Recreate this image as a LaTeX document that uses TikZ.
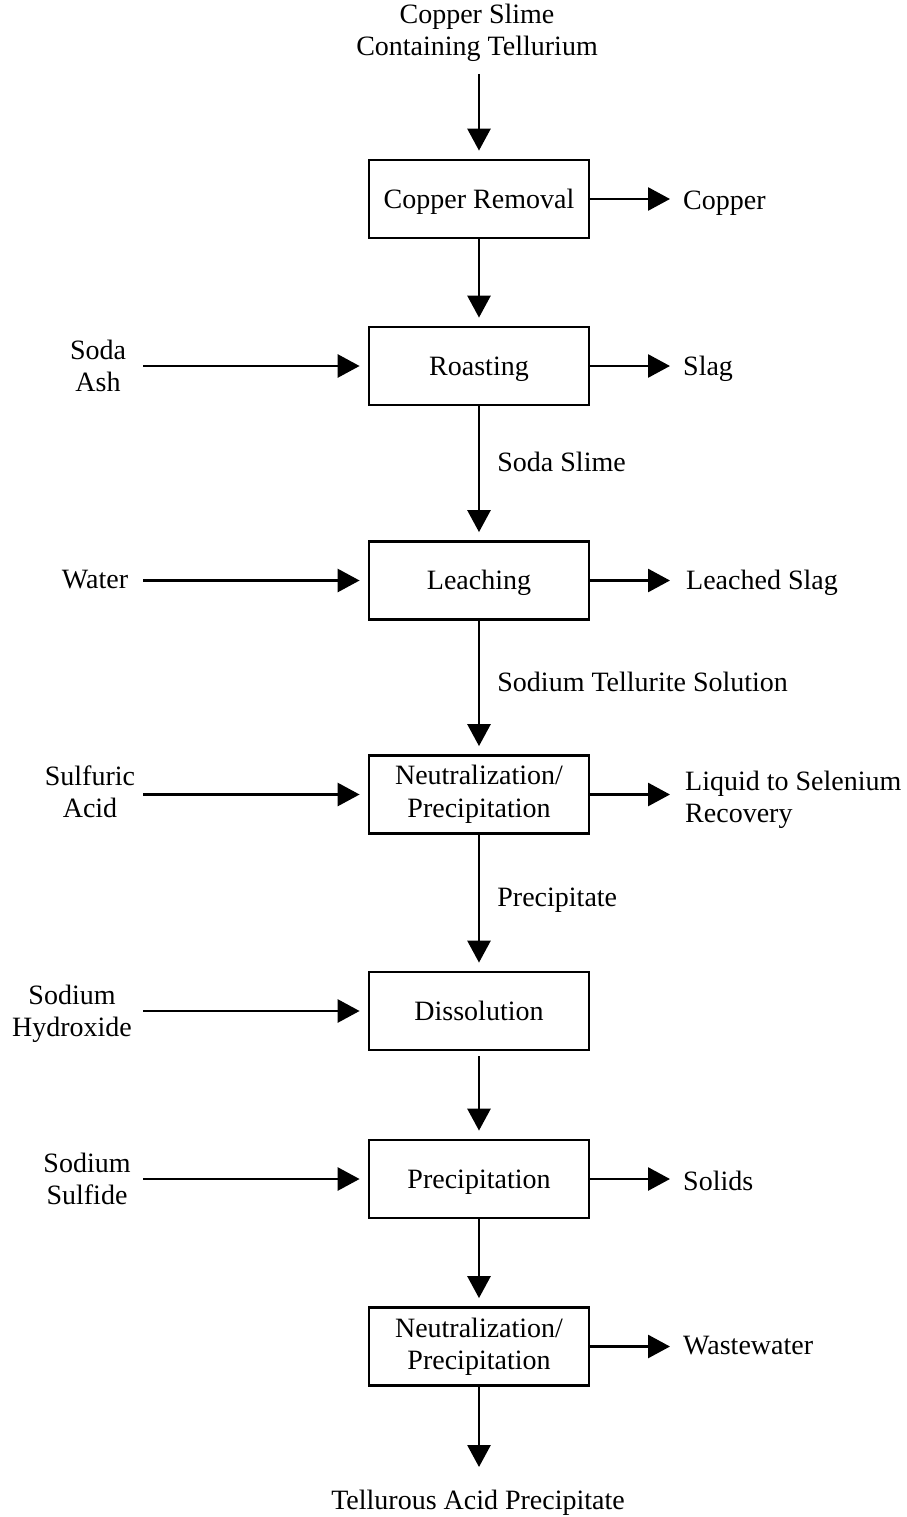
\documentclass[tikz,border=0pt]{standalone}
\usepackage{fontspec}
\setmainfont{Liberation Serif}
\usetikzlibrary{arrows.meta}
\begin{document}
\begin{tikzpicture}[x=1pt,y=-1pt,
  every node/.style={font=\fontsize{28}{32.5}\selectfont, inner sep=0pt, align=center},
  one/.style={text height=24pt, text depth=5.5pt},
  stage/.style={draw, line width=2.8pt, minimum width=220pt, minimum height=78pt},
  flow/.style={line width=2.8pt, -{Triangle[length=22pt,width=23pt]}},
  down/.style={flow, shorten >=8pt},
  side/.style={flow, shorten >=8pt},
]
\useasboundingbox (0,0) rectangle (906,1517);

% process stages
\node[stage, one] (b1) at (479,199)    {Copper Removal};
\node[stage, one] (b2) at (479,366)    {Roasting};
\node[stage, one] (b3) at (479,580.5)  {Leaching};
\node[stage]      (b4) at (479,794.5)  {Neutralization/\\Precipitation};
\node[stage, one] (b5) at (479,1011)   {Dissolution};
\node[stage, one] (b6) at (479,1179)   {Precipitation};
\node[stage]      (b7) at (479,1346.5) {Neutralization/\\Precipitation};

% feed and final product
\node (src) at (477,33) {Copper Slime\\Containing Tellurium};
\coordinate (srcend) at (479,74);
\node[one] (prod) at (478,1500) {Tellurous Acid Precipitate};
\coordinate (prodtip) at (479,1467);

% main line
\draw[down] (srcend) -- (b1.north);
\draw[down] (b1.south) -- (b2.north);
\draw[down] (b2.south) -- (b3.north) node[one, pos=0.42, anchor=west, xshift=17pt] (l23) {Soda Slime};
\draw[down] (b3.south) -- (b4.north) node[one, pos=0.46, anchor=west, xshift=17pt] (l34) {Sodium Tellurite Solution};
\draw[down] (b4.south) -- (b5.north) node[one, pos=0.46, anchor=west, xshift=17pt] (l45) {Precipitate};
\draw[down, shorten <=5pt] (b5.south) -- (b6.north);
\draw[down] (b6.south) -- (b7.north);
\draw[flow] (b7.south) -- (prodtip);

% reagents entering from the left
\node (r2) at (98,366)        {Soda\\Ash};
\node[one] (r3) at (95,579)   {Water};
\node (r4) at (90,792)        {Sulfuric\\Acid};
\node (r5) at (72,1014)       {Sodium\\Hydroxide};
\node (r6) at (87,1179)       {Sodium\\Sulfide};
\coordinate (i2) at (143,366);
\coordinate (i3) at (143,580.5);
\coordinate (i4) at (143,794.5);
\coordinate (i5) at (143,1011);
\coordinate (i6) at (143,1179);
\draw[side] (i2) -- (b2.west);
\draw[side] (i3) -- (b3.west);
\draw[side] (i4) -- (b4.west);
\draw[side] (i5) -- (b5.west);
\draw[side] (i6) -- (b6.west);

% products leaving to the right
\coordinate (o1) at (670,199);
\coordinate (o2) at (670,366);
\coordinate (o3) at (670,580.5);
\coordinate (o4) at (670,794.5);
\coordinate (o6) at (670,1179);
\coordinate (o7) at (670,1346.5);
\draw[flow] (b1.east) -- (o1);
\draw[flow] (b2.east) -- (o2);
\draw[flow] (b3.east) -- (o3);
\draw[flow] (b4.east) -- (o4);
\draw[flow] (b6.east) -- (o6);
\draw[flow] (b7.east) -- (o7);
\node[one, anchor=west] (p1) at (683,200)  {Copper};
\node[one, anchor=west] (p2) at (683,366)  {Slag};
\node[one, anchor=west] (p3) at (686,580)  {Leached Slag};
\node[anchor=west, align=left] (p4) at (685,800) {Liquid to Selenium\\Recovery};
\node[one, anchor=west] (p6) at (683,1181) {Solids};
\node[one, anchor=west] (p7) at (683,1345) {Wastewater};
\end{tikzpicture}
\end{document}
